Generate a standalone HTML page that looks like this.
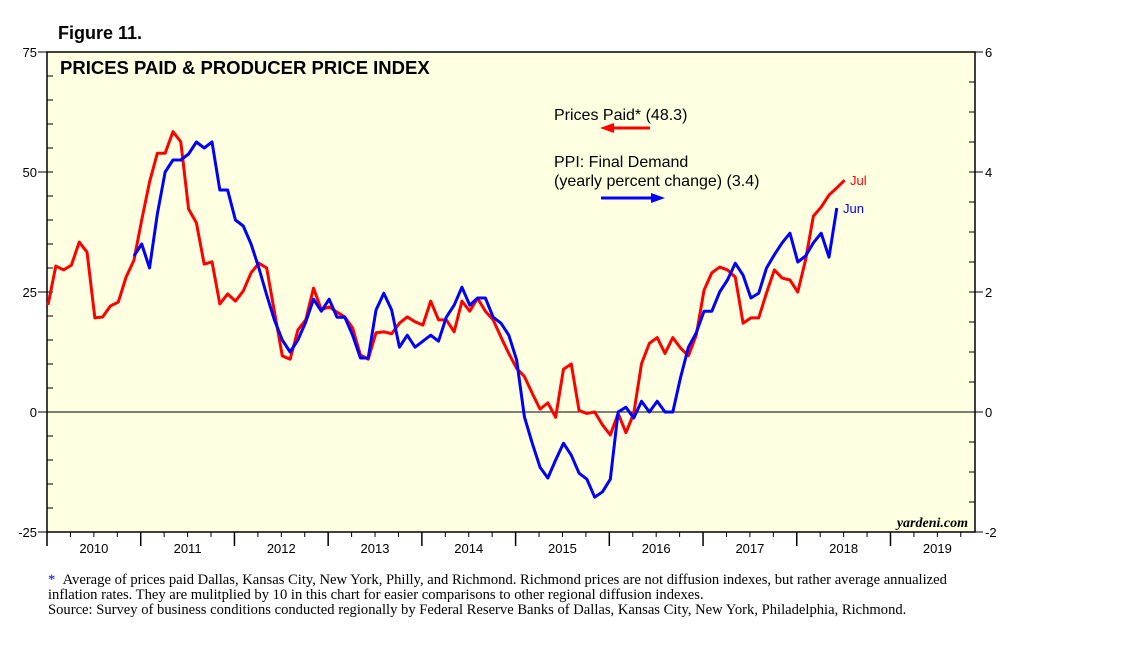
<!DOCTYPE html>
<html><head><meta charset="utf-8">
<style>
body{margin:0;background:#fff;width:1138px;height:656px;overflow:hidden;font-family:"Liberation Sans",sans-serif}
svg text{font-family:"Liberation Sans",sans-serif}
.note{position:absolute;left:48px;top:573px;font-family:"Liberation Serif",serif;font-size:14.6px;line-height:15px;color:#000;width:945px}
</style></head><body>
<svg id="chart" width="1138" height="656" style="position:absolute;left:0;top:0">
<text x="58" y="39" font-size="18" font-weight="bold">Figure 11.</text>
<rect x="47" y="52" width="928" height="480" fill="#ffffe2" stroke="#000" stroke-width="1.5"/>
<text x="60" y="74" font-size="18.5" font-weight="bold">PRICES PAID &amp; PRODUCER PRICE INDEX</text>
<g id="axes"></g>
<g id="series"></g>
<text x="554" y="120" font-size="16">Prices Paid* (48.3)</text>
<g><line x1="612" y1="128" x2="650" y2="128" stroke="#f00" stroke-width="3"/><polygon points="600,128 614,123 614,133" fill="#f00"/></g>
<text x="554" y="167" font-size="16">PPI: Final Demand</text>
<text x="554" y="186" font-size="16">(yearly percent change) (3.4)</text>
<g><line x1="601" y1="198" x2="652" y2="198" stroke="#00f" stroke-width="3"/><polygon points="665,198 651,193 651,203" fill="#00f"/></g>
<text x="850" y="185" font-size="13" fill="#f00">Jul</text>
<text x="843" y="213" font-size="13" fill="#00f">Jun</text>
<text x="968" y="527" font-size="14" font-style="italic" font-weight="bold" text-anchor="end" style="font-family:'Liberation Serif',serif">yardeni.com</text>
</svg>
<div class="note"><span style="color:#00f">*</span>&nbsp;&nbsp;Average of prices paid Dallas, Kansas City, New York, Philly, and Richmond. Richmond prices are not diffusion indexes, but rather average annualized inflation rates. They are mulitplied by 10 in this chart for easier comparisons to other regional diffusion indexes.<br>Source: Survey of business conditions conducted regionally by Federal Reserve Banks of Dallas, Kansas City, New York, Philadelphia, Richmond.</div>
<script>
const pricesPaid=[22.3,30.4,29.6,30.6,35.4,33.3,19.6,19.8,22.1,22.9,28.1,31.6,40,47.9,53.9,53.9,58.4,56.3,42.3,39.4,30.8,31.3,22.5,24.6,23.1,25.2,29,31,30,20.8,11.7,11,17.1,19.2,25.8,21.3,21.9,20.8,19.8,17.5,11.9,11,16.5,16.7,16.3,18.5,19.8,18.8,18.1,23.1,19.2,19.2,16.7,23.1,21,23.7,21,19.2,15.6,12.2,9.1,7.4,3.9,0.6,1.9,-1.1,8.9,10,0.3,-0.3,0,-2.7,-4.8,-0.3,-4.3,-0.3,10.1,14.3,15.5,12.2,15.5,13.3,11.7,16,25.4,29,30.2,29.6,28.1,18.5,19.6,19.6,24.8,29.6,27.9,27.5,25,31.7,40.8,42.7,45.2,46.7,48.3];
const ppiStart=11;
const ppi=[2.6,2.8,2.4,3.3,4.0,4.2,4.2,4.3,4.5,4.4,4.5,3.7,3.7,3.2,3.1,2.8,2.4,1.95,1.53,1.2,1.0,1.2,1.5,1.88,1.68,1.88,1.58,1.58,1.28,0.9,0.9,1.7,1.98,1.7,1.08,1.28,1.08,1.18,1.28,1.18,1.58,1.78,2.08,1.78,1.9,1.9,1.58,1.48,1.28,0.87,-0.08,-0.52,-0.92,-1.1,-0.8,-0.52,-0.72,-1.02,-1.12,-1.42,-1.33,-1.12,0,0.08,-0.1,0.18,0,0.18,0,0,0.58,1.08,1.32,1.68,1.68,2.0,2.2,2.48,2.28,1.9,1.98,2.4,2.62,2.82,2.98,2.5,2.6,2.82,2.98,2.58,3.4];
const years=['2010','2011','2012','2013','2014','2015','2016','2017','2018','2019'];
const leftTicks=[75,50,25,0,-25];
const rightTicks=[6,4,2,0,-2];
const NS='http://www.w3.org/2000/svg';
const X0=48,DX=7.81,Y0=412;
const x=m=>X0+m*DX;
const yL=v=>Y0-v*4.8;
const yR=v=>Y0-v*60;
function mk(t,a,p){const e=document.createElementNS(NS,t);for(const k in a)e.setAttribute(k,a[k]);p.appendChild(e);return e;}
const ax=document.getElementById('axes'),sg=document.getElementById('series');
const z=mk('line',{x1:47,x2:975,y1:yL(0),y2:yL(0),stroke:'#000','stroke-width':1},ax);


for(let v=-25;v<=75;v+=5){const t=mk('line',{x1:47,x2:53,y1:yL(v),y2:yL(v),stroke:'#000'},ax);

}
for(let v=-2;v<=6;v+=0.5){const t=mk('line',{x1:969,x2:975,y1:yR(v),y2:yR(v),stroke:'#000'},ax);

}
leftTicks.forEach(v=>{const t=mk('text',{x:37,y:yL(v)+5,'font-size':13,'text-anchor':'end'},ax);t.textContent=v;


const l=mk('line',{x1:38,x2:47,y1:yL(v),y2:yL(v),stroke:'#000'},ax);

});
rightTicks.forEach(v=>{const t=mk('text',{x:985,y:yR(v)+5,'font-size':13},ax);t.textContent=v;


const l=mk('line',{x1:975,x2:983,y1:yR(v),y2:yR(v),stroke:'#000'},ax);

});
years.forEach((yr,i)=>{const xb=x(i*12)-1;
const l=mk('line',{x1:xb,x2:xb,y1:532,y2:546,stroke:'#000','stroke-width':1.5},ax);


for(let q=1;q<4;q++){const m=mk('line',{x1:x(i*12+q*3)-1,x2:x(i*12+q*3)-1,y1:532,y2:537,stroke:'#000'},ax);

}
const t=mk('text',{x:x(i*12+6)-1,y:553,'font-size':13,'text-anchor':'middle'},ax);t.textContent=yr;

});
const rp=mk('polyline',{points:pricesPaid.map((v,i)=>x(i)+','+yL(v)).join(' '),fill:'none',stroke:'#f00','stroke-width':3,'stroke-linejoin':'round'},sg);


const bp=mk('polyline',{points:ppi.map((v,i)=>x(i+ppiStart)+','+yR(v)).join(' '),fill:'none',stroke:'#00f','stroke-width':3,'stroke-linejoin':'round'},sg);


</script>
</body></html>
